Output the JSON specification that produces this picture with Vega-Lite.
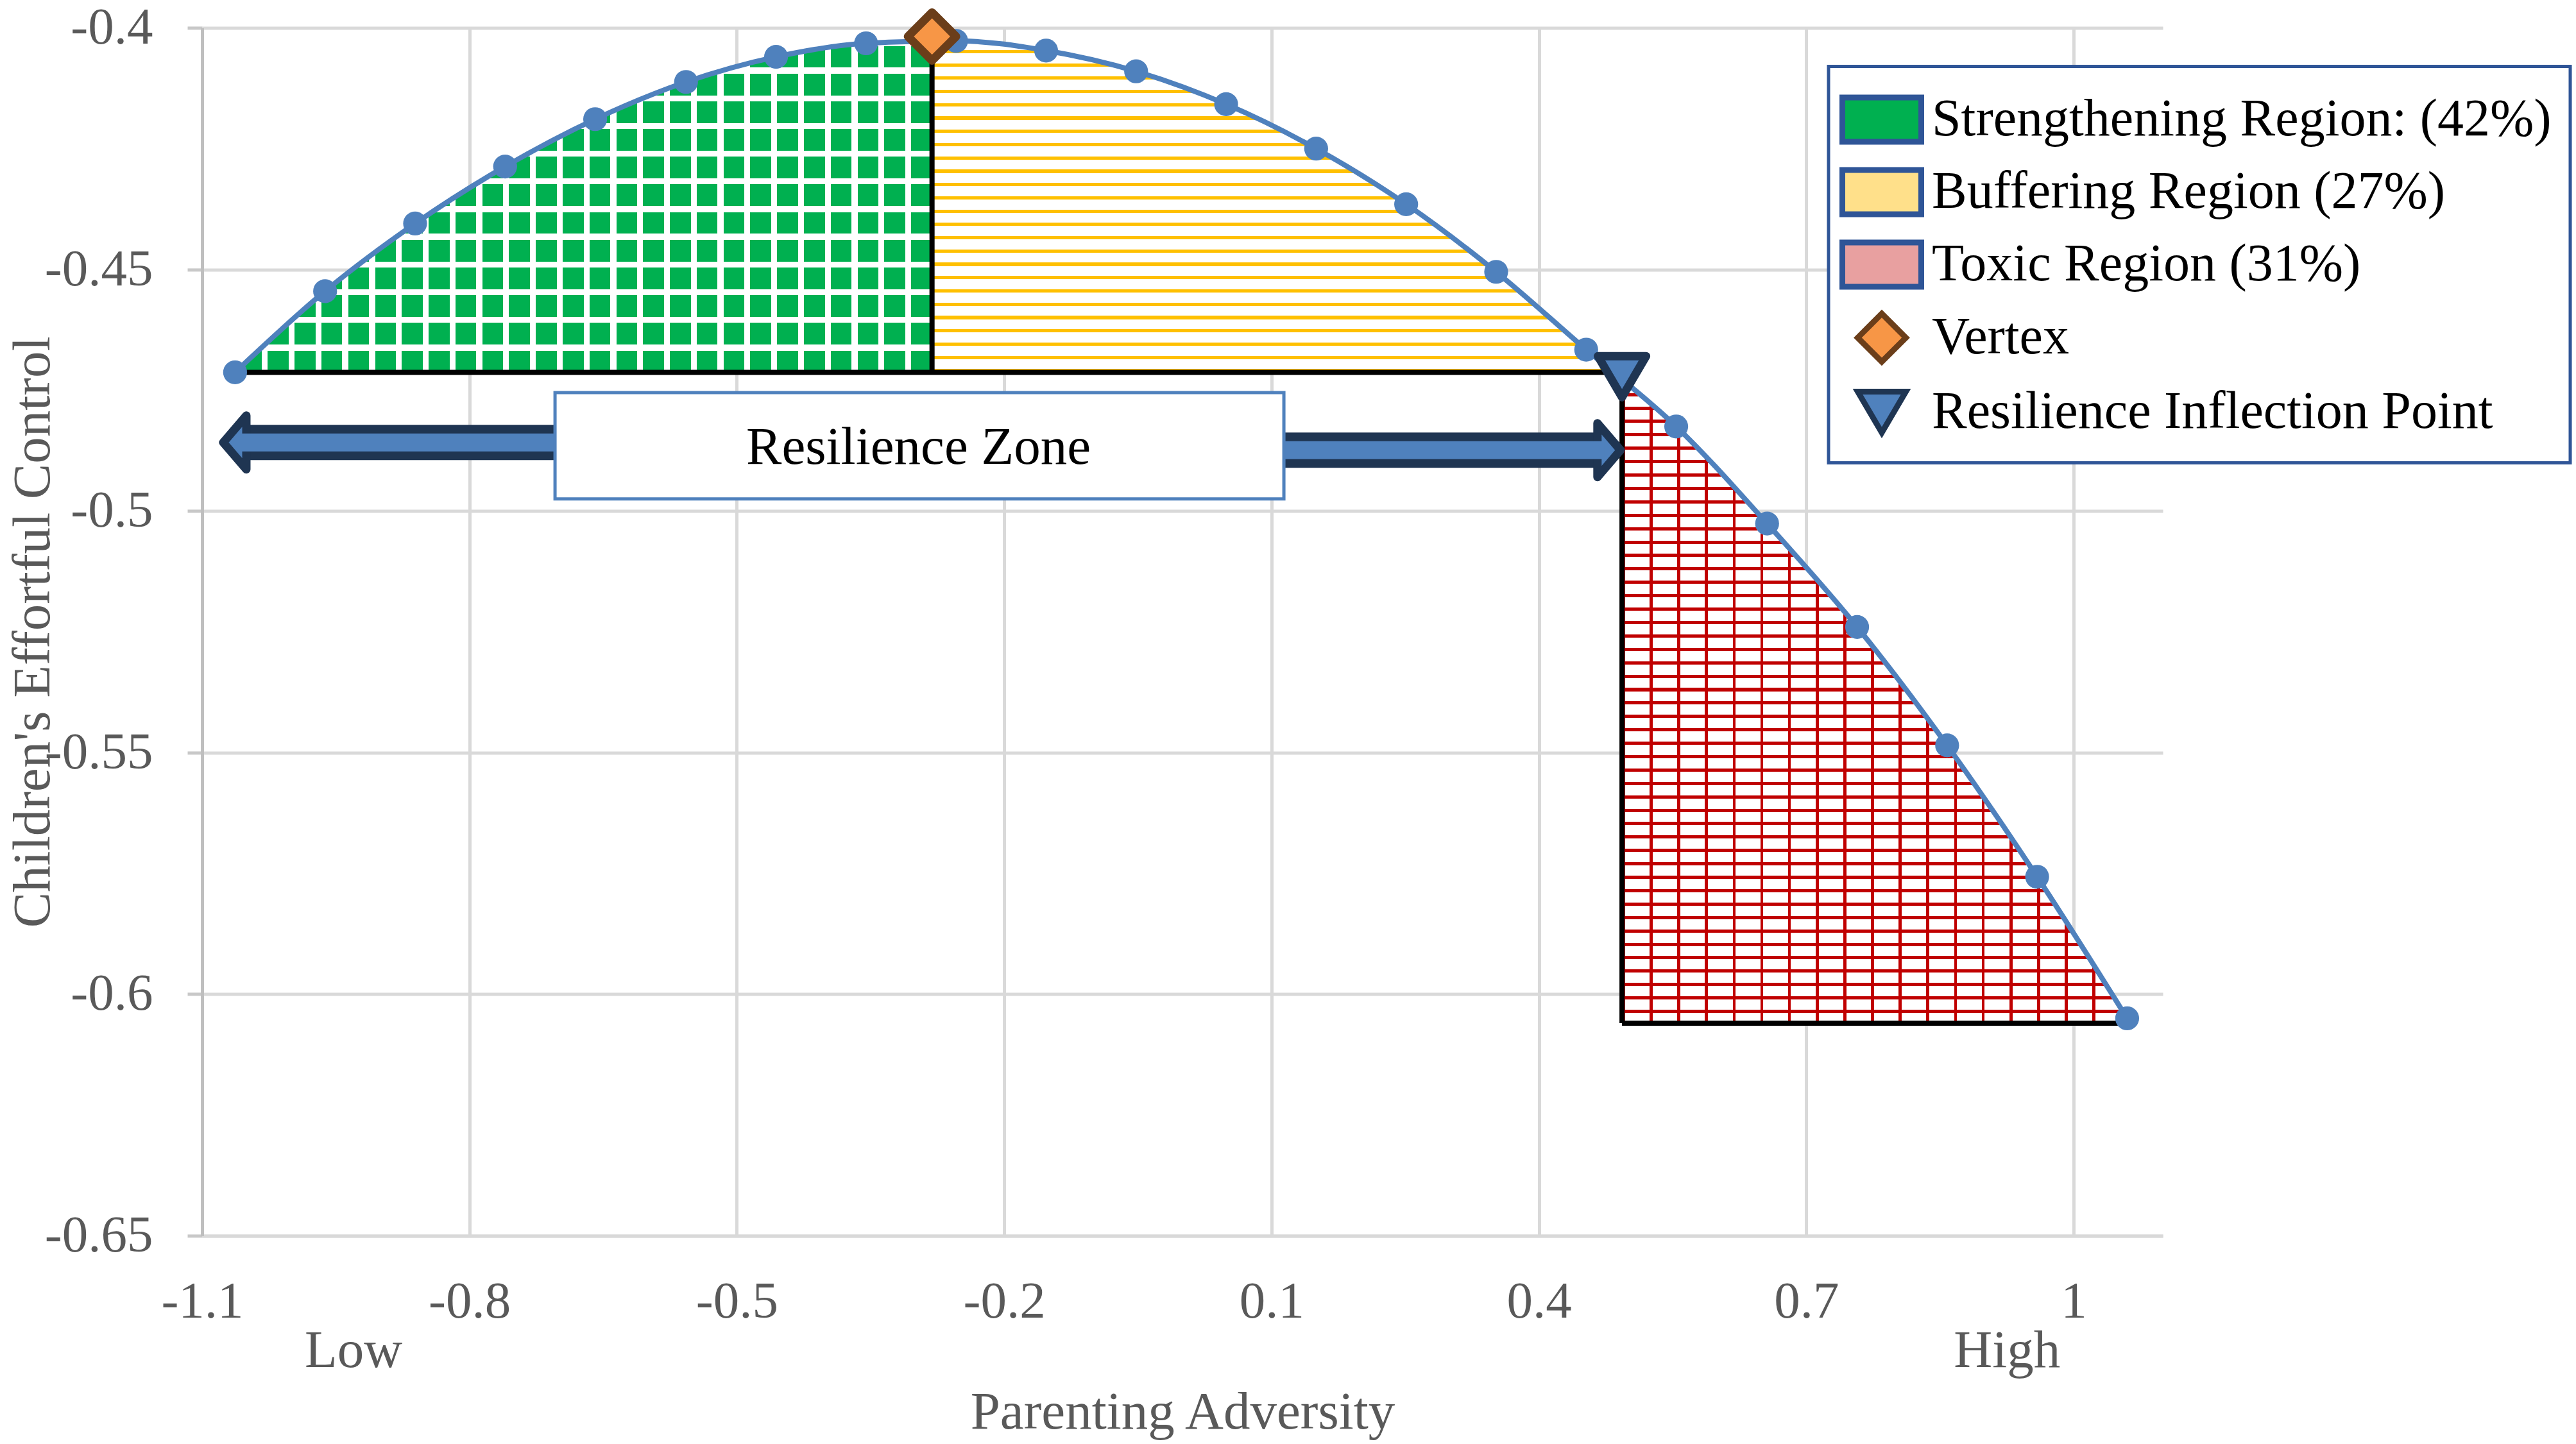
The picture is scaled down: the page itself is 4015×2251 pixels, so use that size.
{
  "$schema": "https://vega.github.io/schema/vega-lite/v6.json",
  "width": 3056,
  "height": 1883,
  "autosize": {"type": "none"},
  "padding": {"left": 315, "top": 43.4, "right": 644, "bottom": 324.6},
  "background": "#ffffff",
  "config": {
    "view": {"stroke": null},
    "font": "Liberation Serif",
    "legend": {"strokeWidth": 5},
    "axis": {
      "labelFont": "Liberation Serif",
      "titleFont": "Liberation Serif",
      "labelColor": "#595959",
      "titleColor": "#595959",
      "titleFontWeight": "normal",
      "labelFontSize": 81,
      "titleFontSize": 83,
      "gridColor": "#D9D9D9",
      "gridWidth": 5
    }
  },
  "datasets": {
    "curve": [
      {"x": -1.063, "y": -0.4713},
      {"x": -0.962, "y": -0.4545},
      {"x": -0.861, "y": -0.4405},
      {"x": -0.76, "y": -0.4287},
      {"x": -0.659, "y": -0.4189},
      {"x": -0.557, "y": -0.4112},
      {"x": -0.456, "y": -0.406},
      {"x": -0.355, "y": -0.4032},
      {"x": -0.254, "y": -0.4027},
      {"x": -0.153, "y": -0.4047},
      {"x": -0.052, "y": -0.409},
      {"x": 0.049, "y": -0.4158},
      {"x": 0.15, "y": -0.425},
      {"x": 0.251, "y": -0.4365},
      {"x": 0.352, "y": -0.4505},
      {"x": 0.453, "y": -0.4666},
      {"x": 0.554, "y": -0.4825},
      {"x": 0.656, "y": -0.5026},
      {"x": 0.757, "y": -0.524},
      {"x": 0.858, "y": -0.5485},
      {"x": 0.959, "y": -0.5757},
      {"x": 1.06, "y": -0.605}
    ],
    "strengthening": [
      {"x": -1.063, "y": -0.4713},
      {"x": -0.962, "y": -0.4545},
      {"x": -0.861, "y": -0.4405},
      {"x": -0.76, "y": -0.4287},
      {"x": -0.659, "y": -0.4189},
      {"x": -0.557, "y": -0.4112},
      {"x": -0.456, "y": -0.406},
      {"x": -0.355, "y": -0.4032},
      {"x": -0.281, "y": -0.4025}
    ],
    "buffering": [
      {"x": -0.281, "y": -0.4025},
      {"x": -0.254, "y": -0.4027},
      {"x": -0.153, "y": -0.4047},
      {"x": -0.052, "y": -0.409},
      {"x": 0.049, "y": -0.4158},
      {"x": 0.15, "y": -0.425},
      {"x": 0.251, "y": -0.4365},
      {"x": 0.352, "y": -0.4505},
      {"x": 0.453, "y": -0.4666},
      {"x": 0.48, "y": -0.4713}
    ],
    "toxic": [
      {"x": 0.4932, "y": -0.4728},
      {"x": 0.554, "y": -0.4825},
      {"x": 0.656, "y": -0.5026},
      {"x": 0.757, "y": -0.524},
      {"x": 0.858, "y": -0.5485},
      {"x": 0.959, "y": -0.5757},
      {"x": 1.052, "y": -0.6027}
    ],
    "black": [
      {"x": -1.055, "x2": 0.4932, "y": -0.4713, "y2": -0.4713},
      {"x": -0.281, "x2": -0.281, "y": -0.4025, "y2": -0.4713},
      {"x": 0.4932, "x2": 0.4932, "y": -0.4728, "y2": -0.606},
      {"x": 0.4932, "x2": 1.052, "y": -0.606, "y2": -0.606}
    ],
    "arrows": [
      {"side": "left", "x": -1.0489, "x2": -0.5, "y": -0.4858},
      {"side": "right", "x": -0.3, "x2": 0.4657, "y": -0.4874}
    ],
    "heads": [
      {"side": "left", "x": -1.0633, "y": -0.4858},
      {"side": "right", "x": 0.4786, "y": -0.4874}
    ],
    "cores": [
      {"side": "left", "x": -1.0561, "x2": -0.5, "y": -0.4858},
      {"side": "right", "x": -0.3, "x2": 0.4731, "y": -0.4874}
    ],
    "zone": [
      {"x": -0.704, "x2": 0.1138, "y": -0.4755, "y2": -0.4975}
    ],
    "zonelabel": [
      {"label": "Resilience Zone", "x": -0.2962, "y": -0.4869}
    ],
    "markers": [
      {"series": "Vertex", "x": -0.281, "y": -0.4018},
      {"series": "Resilience Inflection Point", "x": 0.4932, "y": -0.4722}
    ],
    "ends": [
      {"label": "Low", "x": -0.9301, "y": -0.6739},
      {"label": "High", "x": 0.9252, "y": -0.6739}
    ]
  },
  "layer": [
    {
      "data": {"name": "strengthening"},
      "mark": {"type": "area", "interpolate": "monotone", "color": "#00B050", "opacity": 1},
      "encoding": {
        "x": {
          "field": "x",
          "type": "quantitative",
          "scale": {"domain": [-1.1, 1.1], "nice": false, "zero": false},
          "axis": {
            "values": [-1.1, -0.8, -0.5, -0.2, 0.1, 0.4, 0.7, 1],
            "labelExpr": "'' + datum.value",
            "ticks": false,
            "domainColor": "#D9D9D9",
            "domainWidth": 5,
            "labelPadding": 63,
            "labelFlush": false,
            "labelOverlap": false,
            "title": "Parenting Adversity",
            "titlePadding": 91
          }
        },
        "y": {
          "field": "y",
          "type": "quantitative",
          "scale": {"domain": [-0.65, -0.4], "nice": false, "zero": false},
          "axis": {
            "values": [-0.65, -0.6, -0.55, -0.5, -0.45, -0.4],
            "labelExpr": "'' + datum.value",
            "ticks": true,
            "tickSize": 23,
            "tickWidth": 5,
            "tickColor": "#C8C8C8",
            "domainColor": "#BFBFBF",
            "domainWidth": 5,
            "labelPadding": 54,
            "labelFlush": false,
            "labelOverlap": false,
            "title": "Children's Effortful Control",
            "titlePadding": 22
          }
        },
        "y2": {"datum": -0.4713}
      }
    },
    {
      "data": {"name": "strengthening"},
      "mark": {
        "type": "area",
        "interpolate": "monotone",
        "opacity": 1,
        "fill": {
          "gradient": "linear", "x1": 0, "y1": 0, "x2": 0, "y2": 1,
          "stops": [
            {"offset": 0, "color": "#fff"}, {"offset": 0.018, "color": "#fff"}, {"offset": 0.018, "color": "rgba(255,255,255,0)"},
            {"offset": 0.0833, "color": "rgba(255,255,255,0)"}, {"offset": 0.0833, "color": "#fff"}, {"offset": 0.1013, "color": "#fff"}, {"offset": 0.1013, "color": "rgba(255,255,255,0)"},
            {"offset": 0.1667, "color": "rgba(255,255,255,0)"}, {"offset": 0.1667, "color": "#fff"}, {"offset": 0.1847, "color": "#fff"}, {"offset": 0.1847, "color": "rgba(255,255,255,0)"},
            {"offset": 0.25, "color": "rgba(255,255,255,0)"}, {"offset": 0.25, "color": "#fff"}, {"offset": 0.268, "color": "#fff"}, {"offset": 0.268, "color": "rgba(255,255,255,0)"},
            {"offset": 0.3333, "color": "rgba(255,255,255,0)"}, {"offset": 0.3333, "color": "#fff"}, {"offset": 0.3513, "color": "#fff"}, {"offset": 0.3513, "color": "rgba(255,255,255,0)"},
            {"offset": 0.4167, "color": "rgba(255,255,255,0)"}, {"offset": 0.4167, "color": "#fff"}, {"offset": 0.4347, "color": "#fff"}, {"offset": 0.4347, "color": "rgba(255,255,255,0)"},
            {"offset": 0.5, "color": "rgba(255,255,255,0)"}, {"offset": 0.5, "color": "#fff"}, {"offset": 0.518, "color": "#fff"}, {"offset": 0.518, "color": "rgba(255,255,255,0)"},
            {"offset": 0.5833, "color": "rgba(255,255,255,0)"}, {"offset": 0.5833, "color": "#fff"}, {"offset": 0.6013, "color": "#fff"}, {"offset": 0.6013, "color": "rgba(255,255,255,0)"},
            {"offset": 0.6667, "color": "rgba(255,255,255,0)"}, {"offset": 0.6667, "color": "#fff"}, {"offset": 0.6847, "color": "#fff"}, {"offset": 0.6847, "color": "rgba(255,255,255,0)"},
            {"offset": 0.75, "color": "rgba(255,255,255,0)"}, {"offset": 0.75, "color": "#fff"}, {"offset": 0.768, "color": "#fff"}, {"offset": 0.768, "color": "rgba(255,255,255,0)"},
            {"offset": 0.8333, "color": "rgba(255,255,255,0)"}, {"offset": 0.8333, "color": "#fff"}, {"offset": 0.8513, "color": "#fff"}, {"offset": 0.8513, "color": "rgba(255,255,255,0)"},
            {"offset": 0.9167, "color": "rgba(255,255,255,0)"}, {"offset": 0.9167, "color": "#fff"}, {"offset": 0.9347, "color": "#fff"}, {"offset": 0.9347, "color": "rgba(255,255,255,0)"},
            {"offset": 1, "color": "rgba(255,255,255,0)"}
          ]
        }
      },
      "encoding": {
        "x": {"field": "x", "type": "quantitative"},
        "y": {"field": "y", "type": "quantitative"},
        "y2": {"datum": -0.4713}
      }
    },
    {
      "data": {"name": "strengthening"},
      "mark": {
        "type": "area",
        "interpolate": "monotone",
        "opacity": 1,
        "fill": {
          "gradient": "linear", "x1": 0, "y1": 0, "x2": 1, "y2": 0,
          "stops": [
            {"offset": 0, "color": "#fff"}, {"offset": 0.0085, "color": "#fff"}, {"offset": 0.0085, "color": "rgba(255,255,255,0)"},
            {"offset": 0.0385, "color": "rgba(255,255,255,0)"}, {"offset": 0.0385, "color": "#fff"}, {"offset": 0.047, "color": "#fff"}, {"offset": 0.047, "color": "rgba(255,255,255,0)"},
            {"offset": 0.0769, "color": "rgba(255,255,255,0)"}, {"offset": 0.0769, "color": "#fff"}, {"offset": 0.0854, "color": "#fff"}, {"offset": 0.0854, "color": "rgba(255,255,255,0)"},
            {"offset": 0.1154, "color": "rgba(255,255,255,0)"}, {"offset": 0.1154, "color": "#fff"}, {"offset": 0.1239, "color": "#fff"}, {"offset": 0.1239, "color": "rgba(255,255,255,0)"},
            {"offset": 0.1538, "color": "rgba(255,255,255,0)"}, {"offset": 0.1538, "color": "#fff"}, {"offset": 0.1623, "color": "#fff"}, {"offset": 0.1623, "color": "rgba(255,255,255,0)"},
            {"offset": 0.1923, "color": "rgba(255,255,255,0)"}, {"offset": 0.1923, "color": "#fff"}, {"offset": 0.2008, "color": "#fff"}, {"offset": 0.2008, "color": "rgba(255,255,255,0)"},
            {"offset": 0.2308, "color": "rgba(255,255,255,0)"}, {"offset": 0.2308, "color": "#fff"}, {"offset": 0.2393, "color": "#fff"}, {"offset": 0.2393, "color": "rgba(255,255,255,0)"},
            {"offset": 0.2692, "color": "rgba(255,255,255,0)"}, {"offset": 0.2692, "color": "#fff"}, {"offset": 0.2777, "color": "#fff"}, {"offset": 0.2777, "color": "rgba(255,255,255,0)"},
            {"offset": 0.3077, "color": "rgba(255,255,255,0)"}, {"offset": 0.3077, "color": "#fff"}, {"offset": 0.3162, "color": "#fff"}, {"offset": 0.3162, "color": "rgba(255,255,255,0)"},
            {"offset": 0.3462, "color": "rgba(255,255,255,0)"}, {"offset": 0.3462, "color": "#fff"}, {"offset": 0.3547, "color": "#fff"}, {"offset": 0.3547, "color": "rgba(255,255,255,0)"},
            {"offset": 0.3846, "color": "rgba(255,255,255,0)"}, {"offset": 0.3846, "color": "#fff"}, {"offset": 0.3931, "color": "#fff"}, {"offset": 0.3931, "color": "rgba(255,255,255,0)"},
            {"offset": 0.4231, "color": "rgba(255,255,255,0)"}, {"offset": 0.4231, "color": "#fff"}, {"offset": 0.4316, "color": "#fff"}, {"offset": 0.4316, "color": "rgba(255,255,255,0)"},
            {"offset": 0.4615, "color": "rgba(255,255,255,0)"}, {"offset": 0.4615, "color": "#fff"}, {"offset": 0.47, "color": "#fff"}, {"offset": 0.47, "color": "rgba(255,255,255,0)"},
            {"offset": 0.5, "color": "rgba(255,255,255,0)"}, {"offset": 0.5, "color": "#fff"}, {"offset": 0.5085, "color": "#fff"}, {"offset": 0.5085, "color": "rgba(255,255,255,0)"},
            {"offset": 0.5385, "color": "rgba(255,255,255,0)"}, {"offset": 0.5385, "color": "#fff"}, {"offset": 0.547, "color": "#fff"}, {"offset": 0.547, "color": "rgba(255,255,255,0)"},
            {"offset": 0.5769, "color": "rgba(255,255,255,0)"}, {"offset": 0.5769, "color": "#fff"}, {"offset": 0.5854, "color": "#fff"}, {"offset": 0.5854, "color": "rgba(255,255,255,0)"},
            {"offset": 0.6154, "color": "rgba(255,255,255,0)"}, {"offset": 0.6154, "color": "#fff"}, {"offset": 0.6239, "color": "#fff"}, {"offset": 0.6239, "color": "rgba(255,255,255,0)"},
            {"offset": 0.6538, "color": "rgba(255,255,255,0)"}, {"offset": 0.6538, "color": "#fff"}, {"offset": 0.6623, "color": "#fff"}, {"offset": 0.6623, "color": "rgba(255,255,255,0)"},
            {"offset": 0.6923, "color": "rgba(255,255,255,0)"}, {"offset": 0.6923, "color": "#fff"}, {"offset": 0.7008, "color": "#fff"}, {"offset": 0.7008, "color": "rgba(255,255,255,0)"},
            {"offset": 0.7308, "color": "rgba(255,255,255,0)"}, {"offset": 0.7308, "color": "#fff"}, {"offset": 0.7393, "color": "#fff"}, {"offset": 0.7393, "color": "rgba(255,255,255,0)"},
            {"offset": 0.7692, "color": "rgba(255,255,255,0)"}, {"offset": 0.7692, "color": "#fff"}, {"offset": 0.7777, "color": "#fff"}, {"offset": 0.7777, "color": "rgba(255,255,255,0)"},
            {"offset": 0.8077, "color": "rgba(255,255,255,0)"}, {"offset": 0.8077, "color": "#fff"}, {"offset": 0.8162, "color": "#fff"}, {"offset": 0.8162, "color": "rgba(255,255,255,0)"},
            {"offset": 0.8462, "color": "rgba(255,255,255,0)"}, {"offset": 0.8462, "color": "#fff"}, {"offset": 0.8547, "color": "#fff"}, {"offset": 0.8547, "color": "rgba(255,255,255,0)"},
            {"offset": 0.8846, "color": "rgba(255,255,255,0)"}, {"offset": 0.8846, "color": "#fff"}, {"offset": 0.8931, "color": "#fff"}, {"offset": 0.8931, "color": "rgba(255,255,255,0)"},
            {"offset": 0.9231, "color": "rgba(255,255,255,0)"}, {"offset": 0.9231, "color": "#fff"}, {"offset": 0.9316, "color": "#fff"}, {"offset": 0.9316, "color": "rgba(255,255,255,0)"},
            {"offset": 0.9615, "color": "rgba(255,255,255,0)"}, {"offset": 0.9615, "color": "#fff"}, {"offset": 0.97, "color": "#fff"}, {"offset": 0.97, "color": "rgba(255,255,255,0)"},
            {"offset": 1, "color": "rgba(255,255,255,0)"}
          ]
        }
      },
      "encoding": {
        "x": {"field": "x", "type": "quantitative"},
        "y": {"field": "y", "type": "quantitative"},
        "y2": {"datum": -0.4713}
      }
    },
    {
      "data": {"name": "buffering"},
      "mark": {
        "type": "area",
        "interpolate": "monotone",
        "opacity": 1,
        "fill": {
          "gradient": "linear", "x1": 0, "y1": 0, "x2": 0, "y2": 1,
          "stops": [
            {"offset": 0, "color": "#fff"},
            {"offset": 0.03, "color": "#fff"}, {"offset": 0.03, "color": "#ffc000"}, {"offset": 0.04, "color": "#ffc000"}, {"offset": 0.04, "color": "#fff"},
            {"offset": 0.07, "color": "#fff"}, {"offset": 0.07, "color": "#ffc000"}, {"offset": 0.08, "color": "#ffc000"}, {"offset": 0.08, "color": "#fff"},
            {"offset": 0.11, "color": "#fff"}, {"offset": 0.11, "color": "#ffc000"}, {"offset": 0.12, "color": "#ffc000"}, {"offset": 0.12, "color": "#fff"},
            {"offset": 0.15, "color": "#fff"}, {"offset": 0.15, "color": "#ffc000"}, {"offset": 0.16, "color": "#ffc000"}, {"offset": 0.16, "color": "#fff"},
            {"offset": 0.19, "color": "#fff"}, {"offset": 0.19, "color": "#ffc000"}, {"offset": 0.2, "color": "#ffc000"}, {"offset": 0.2, "color": "#fff"},
            {"offset": 0.23, "color": "#fff"}, {"offset": 0.23, "color": "#ffc000"}, {"offset": 0.24, "color": "#ffc000"}, {"offset": 0.24, "color": "#fff"},
            {"offset": 0.27, "color": "#fff"}, {"offset": 0.27, "color": "#ffc000"}, {"offset": 0.28, "color": "#ffc000"}, {"offset": 0.28, "color": "#fff"},
            {"offset": 0.31, "color": "#fff"}, {"offset": 0.31, "color": "#ffc000"}, {"offset": 0.32, "color": "#ffc000"}, {"offset": 0.32, "color": "#fff"},
            {"offset": 0.35, "color": "#fff"}, {"offset": 0.35, "color": "#ffc000"}, {"offset": 0.36, "color": "#ffc000"}, {"offset": 0.36, "color": "#fff"},
            {"offset": 0.39, "color": "#fff"}, {"offset": 0.39, "color": "#ffc000"}, {"offset": 0.4, "color": "#ffc000"}, {"offset": 0.4, "color": "#fff"},
            {"offset": 0.43, "color": "#fff"}, {"offset": 0.43, "color": "#ffc000"}, {"offset": 0.44, "color": "#ffc000"}, {"offset": 0.44, "color": "#fff"},
            {"offset": 0.47, "color": "#fff"}, {"offset": 0.47, "color": "#ffc000"}, {"offset": 0.48, "color": "#ffc000"}, {"offset": 0.48, "color": "#fff"},
            {"offset": 0.51, "color": "#fff"}, {"offset": 0.51, "color": "#ffc000"}, {"offset": 0.52, "color": "#ffc000"}, {"offset": 0.52, "color": "#fff"},
            {"offset": 0.55, "color": "#fff"}, {"offset": 0.55, "color": "#ffc000"}, {"offset": 0.56, "color": "#ffc000"}, {"offset": 0.56, "color": "#fff"},
            {"offset": 0.59, "color": "#fff"}, {"offset": 0.59, "color": "#ffc000"}, {"offset": 0.6, "color": "#ffc000"}, {"offset": 0.6, "color": "#fff"},
            {"offset": 0.63, "color": "#fff"}, {"offset": 0.63, "color": "#ffc000"}, {"offset": 0.64, "color": "#ffc000"}, {"offset": 0.64, "color": "#fff"},
            {"offset": 0.67, "color": "#fff"}, {"offset": 0.67, "color": "#ffc000"}, {"offset": 0.68, "color": "#ffc000"}, {"offset": 0.68, "color": "#fff"},
            {"offset": 0.71, "color": "#fff"}, {"offset": 0.71, "color": "#ffc000"}, {"offset": 0.72, "color": "#ffc000"}, {"offset": 0.72, "color": "#fff"},
            {"offset": 0.75, "color": "#fff"}, {"offset": 0.75, "color": "#ffc000"}, {"offset": 0.76, "color": "#ffc000"}, {"offset": 0.76, "color": "#fff"},
            {"offset": 0.79, "color": "#fff"}, {"offset": 0.79, "color": "#ffc000"}, {"offset": 0.8, "color": "#ffc000"}, {"offset": 0.8, "color": "#fff"},
            {"offset": 0.83, "color": "#fff"}, {"offset": 0.83, "color": "#ffc000"}, {"offset": 0.84, "color": "#ffc000"}, {"offset": 0.84, "color": "#fff"},
            {"offset": 0.87, "color": "#fff"}, {"offset": 0.87, "color": "#ffc000"}, {"offset": 0.88, "color": "#ffc000"}, {"offset": 0.88, "color": "#fff"},
            {"offset": 0.91, "color": "#fff"}, {"offset": 0.91, "color": "#ffc000"}, {"offset": 0.92, "color": "#ffc000"}, {"offset": 0.92, "color": "#fff"},
            {"offset": 0.95, "color": "#fff"}, {"offset": 0.95, "color": "#ffc000"}, {"offset": 0.96, "color": "#ffc000"}, {"offset": 0.96, "color": "#fff"},
            {"offset": 0.99, "color": "#fff"}, {"offset": 0.99, "color": "#ffc000"}, {"offset": 1, "color": "#ffc000"}
          ]
        }
      },
      "encoding": {
        "x": {"field": "x", "type": "quantitative"},
        "y": {"field": "y", "type": "quantitative"},
        "y2": {"datum": -0.4713}
      }
    },
    {
      "data": {"name": "toxic"},
      "mark": {
        "type": "area",
        "interpolate": "monotone",
        "opacity": 1,
        "fill": {
          "gradient": "linear", "x1": 0, "y1": 0, "x2": 0, "y2": 1,
          "stops": [
            {"offset": 0, "color": "#c00000"}, {"offset": 0.005, "color": "#c00000"}, {"offset": 0.005, "color": "#fff"},
            {"offset": 0.0208, "color": "#fff"}, {"offset": 0.0208, "color": "#c00000"}, {"offset": 0.0258, "color": "#c00000"}, {"offset": 0.0258, "color": "#fff"},
            {"offset": 0.0417, "color": "#fff"}, {"offset": 0.0417, "color": "#c00000"}, {"offset": 0.0467, "color": "#c00000"}, {"offset": 0.0467, "color": "#fff"},
            {"offset": 0.0625, "color": "#fff"}, {"offset": 0.0625, "color": "#c00000"}, {"offset": 0.0675, "color": "#c00000"}, {"offset": 0.0675, "color": "#fff"},
            {"offset": 0.0833, "color": "#fff"}, {"offset": 0.0833, "color": "#c00000"}, {"offset": 0.0883, "color": "#c00000"}, {"offset": 0.0883, "color": "#fff"},
            {"offset": 0.1042, "color": "#fff"}, {"offset": 0.1042, "color": "#c00000"}, {"offset": 0.1092, "color": "#c00000"}, {"offset": 0.1092, "color": "#fff"},
            {"offset": 0.125, "color": "#fff"}, {"offset": 0.125, "color": "#c00000"}, {"offset": 0.13, "color": "#c00000"}, {"offset": 0.13, "color": "#fff"},
            {"offset": 0.1458, "color": "#fff"}, {"offset": 0.1458, "color": "#c00000"}, {"offset": 0.1508, "color": "#c00000"}, {"offset": 0.1508, "color": "#fff"},
            {"offset": 0.1667, "color": "#fff"}, {"offset": 0.1667, "color": "#c00000"}, {"offset": 0.1717, "color": "#c00000"}, {"offset": 0.1717, "color": "#fff"},
            {"offset": 0.1875, "color": "#fff"}, {"offset": 0.1875, "color": "#c00000"}, {"offset": 0.1925, "color": "#c00000"}, {"offset": 0.1925, "color": "#fff"},
            {"offset": 0.2083, "color": "#fff"}, {"offset": 0.2083, "color": "#c00000"}, {"offset": 0.2133, "color": "#c00000"}, {"offset": 0.2133, "color": "#fff"},
            {"offset": 0.2292, "color": "#fff"}, {"offset": 0.2292, "color": "#c00000"}, {"offset": 0.2342, "color": "#c00000"}, {"offset": 0.2342, "color": "#fff"},
            {"offset": 0.25, "color": "#fff"}, {"offset": 0.25, "color": "#c00000"}, {"offset": 0.255, "color": "#c00000"}, {"offset": 0.255, "color": "#fff"},
            {"offset": 0.2708, "color": "#fff"}, {"offset": 0.2708, "color": "#c00000"}, {"offset": 0.2758, "color": "#c00000"}, {"offset": 0.2758, "color": "#fff"},
            {"offset": 0.2917, "color": "#fff"}, {"offset": 0.2917, "color": "#c00000"}, {"offset": 0.2967, "color": "#c00000"}, {"offset": 0.2967, "color": "#fff"},
            {"offset": 0.3125, "color": "#fff"}, {"offset": 0.3125, "color": "#c00000"}, {"offset": 0.3175, "color": "#c00000"}, {"offset": 0.3175, "color": "#fff"},
            {"offset": 0.3333, "color": "#fff"}, {"offset": 0.3333, "color": "#c00000"}, {"offset": 0.3383, "color": "#c00000"}, {"offset": 0.3383, "color": "#fff"},
            {"offset": 0.3542, "color": "#fff"}, {"offset": 0.3542, "color": "#c00000"}, {"offset": 0.3592, "color": "#c00000"}, {"offset": 0.3592, "color": "#fff"},
            {"offset": 0.375, "color": "#fff"}, {"offset": 0.375, "color": "#c00000"}, {"offset": 0.38, "color": "#c00000"}, {"offset": 0.38, "color": "#fff"},
            {"offset": 0.3958, "color": "#fff"}, {"offset": 0.3958, "color": "#c00000"}, {"offset": 0.4008, "color": "#c00000"}, {"offset": 0.4008, "color": "#fff"},
            {"offset": 0.4167, "color": "#fff"}, {"offset": 0.4167, "color": "#c00000"}, {"offset": 0.4217, "color": "#c00000"}, {"offset": 0.4217, "color": "#fff"},
            {"offset": 0.4375, "color": "#fff"}, {"offset": 0.4375, "color": "#c00000"}, {"offset": 0.4425, "color": "#c00000"}, {"offset": 0.4425, "color": "#fff"},
            {"offset": 0.4583, "color": "#fff"}, {"offset": 0.4583, "color": "#c00000"}, {"offset": 0.4633, "color": "#c00000"}, {"offset": 0.4633, "color": "#fff"},
            {"offset": 0.4792, "color": "#fff"}, {"offset": 0.4792, "color": "#c00000"}, {"offset": 0.4842, "color": "#c00000"}, {"offset": 0.4842, "color": "#fff"},
            {"offset": 0.5, "color": "#fff"}, {"offset": 0.5, "color": "#c00000"}, {"offset": 0.505, "color": "#c00000"}, {"offset": 0.505, "color": "#fff"},
            {"offset": 0.5208, "color": "#fff"}, {"offset": 0.5208, "color": "#c00000"}, {"offset": 0.5258, "color": "#c00000"}, {"offset": 0.5258, "color": "#fff"},
            {"offset": 0.5417, "color": "#fff"}, {"offset": 0.5417, "color": "#c00000"}, {"offset": 0.5467, "color": "#c00000"}, {"offset": 0.5467, "color": "#fff"},
            {"offset": 0.5625, "color": "#fff"}, {"offset": 0.5625, "color": "#c00000"}, {"offset": 0.5675, "color": "#c00000"}, {"offset": 0.5675, "color": "#fff"},
            {"offset": 0.5833, "color": "#fff"}, {"offset": 0.5833, "color": "#c00000"}, {"offset": 0.5883, "color": "#c00000"}, {"offset": 0.5883, "color": "#fff"},
            {"offset": 0.6042, "color": "#fff"}, {"offset": 0.6042, "color": "#c00000"}, {"offset": 0.6092, "color": "#c00000"}, {"offset": 0.6092, "color": "#fff"},
            {"offset": 0.625, "color": "#fff"}, {"offset": 0.625, "color": "#c00000"}, {"offset": 0.63, "color": "#c00000"}, {"offset": 0.63, "color": "#fff"},
            {"offset": 0.6458, "color": "#fff"}, {"offset": 0.6458, "color": "#c00000"}, {"offset": 0.6508, "color": "#c00000"}, {"offset": 0.6508, "color": "#fff"},
            {"offset": 0.6667, "color": "#fff"}, {"offset": 0.6667, "color": "#c00000"}, {"offset": 0.6717, "color": "#c00000"}, {"offset": 0.6717, "color": "#fff"},
            {"offset": 0.6875, "color": "#fff"}, {"offset": 0.6875, "color": "#c00000"}, {"offset": 0.6925, "color": "#c00000"}, {"offset": 0.6925, "color": "#fff"},
            {"offset": 0.7083, "color": "#fff"}, {"offset": 0.7083, "color": "#c00000"}, {"offset": 0.7133, "color": "#c00000"}, {"offset": 0.7133, "color": "#fff"},
            {"offset": 0.7292, "color": "#fff"}, {"offset": 0.7292, "color": "#c00000"}, {"offset": 0.7342, "color": "#c00000"}, {"offset": 0.7342, "color": "#fff"},
            {"offset": 0.75, "color": "#fff"}, {"offset": 0.75, "color": "#c00000"}, {"offset": 0.755, "color": "#c00000"}, {"offset": 0.755, "color": "#fff"},
            {"offset": 0.7708, "color": "#fff"}, {"offset": 0.7708, "color": "#c00000"}, {"offset": 0.7758, "color": "#c00000"}, {"offset": 0.7758, "color": "#fff"},
            {"offset": 0.7917, "color": "#fff"}, {"offset": 0.7917, "color": "#c00000"}, {"offset": 0.7967, "color": "#c00000"}, {"offset": 0.7967, "color": "#fff"},
            {"offset": 0.8125, "color": "#fff"}, {"offset": 0.8125, "color": "#c00000"}, {"offset": 0.8175, "color": "#c00000"}, {"offset": 0.8175, "color": "#fff"},
            {"offset": 0.8333, "color": "#fff"}, {"offset": 0.8333, "color": "#c00000"}, {"offset": 0.8383, "color": "#c00000"}, {"offset": 0.8383, "color": "#fff"},
            {"offset": 0.8542, "color": "#fff"}, {"offset": 0.8542, "color": "#c00000"}, {"offset": 0.8592, "color": "#c00000"}, {"offset": 0.8592, "color": "#fff"},
            {"offset": 0.875, "color": "#fff"}, {"offset": 0.875, "color": "#c00000"}, {"offset": 0.88, "color": "#c00000"}, {"offset": 0.88, "color": "#fff"},
            {"offset": 0.8958, "color": "#fff"}, {"offset": 0.8958, "color": "#c00000"}, {"offset": 0.9008, "color": "#c00000"}, {"offset": 0.9008, "color": "#fff"},
            {"offset": 0.9167, "color": "#fff"}, {"offset": 0.9167, "color": "#c00000"}, {"offset": 0.9217, "color": "#c00000"}, {"offset": 0.9217, "color": "#fff"},
            {"offset": 0.9375, "color": "#fff"}, {"offset": 0.9375, "color": "#c00000"}, {"offset": 0.9425, "color": "#c00000"}, {"offset": 0.9425, "color": "#fff"},
            {"offset": 0.9583, "color": "#fff"}, {"offset": 0.9583, "color": "#c00000"}, {"offset": 0.9633, "color": "#c00000"}, {"offset": 0.9633, "color": "#fff"},
            {"offset": 0.9792, "color": "#fff"}, {"offset": 0.9792, "color": "#c00000"}, {"offset": 0.9842, "color": "#c00000"}, {"offset": 0.9842, "color": "#fff"},
            {"offset": 1, "color": "#fff"}
          ]
        }
      },
      "encoding": {
        "x": {"field": "x", "type": "quantitative"},
        "y": {"field": "y", "type": "quantitative"},
        "y2": {"datum": -0.606}
      }
    },
    {
      "data": {"name": "toxic"},
      "mark": {
        "type": "area",
        "interpolate": "monotone",
        "opacity": 1,
        "fill": {
          "gradient": "linear", "x1": 0, "y1": 0, "x2": 1, "y2": 0,
          "stops": [
            {"offset": 0, "color": "#c00000"}, {"offset": 0.006, "color": "#c00000"}, {"offset": 0.006, "color": "rgba(255,255,255,0)"},
            {"offset": 0.0556, "color": "rgba(255,255,255,0)"}, {"offset": 0.0556, "color": "#c00000"}, {"offset": 0.0616, "color": "#c00000"}, {"offset": 0.0616, "color": "rgba(255,255,255,0)"},
            {"offset": 0.1111, "color": "rgba(255,255,255,0)"}, {"offset": 0.1111, "color": "#c00000"}, {"offset": 0.1171, "color": "#c00000"}, {"offset": 0.1171, "color": "rgba(255,255,255,0)"},
            {"offset": 0.1667, "color": "rgba(255,255,255,0)"}, {"offset": 0.1667, "color": "#c00000"}, {"offset": 0.1727, "color": "#c00000"}, {"offset": 0.1727, "color": "rgba(255,255,255,0)"},
            {"offset": 0.2222, "color": "rgba(255,255,255,0)"}, {"offset": 0.2222, "color": "#c00000"}, {"offset": 0.2282, "color": "#c00000"}, {"offset": 0.2282, "color": "rgba(255,255,255,0)"},
            {"offset": 0.2778, "color": "rgba(255,255,255,0)"}, {"offset": 0.2778, "color": "#c00000"}, {"offset": 0.2838, "color": "#c00000"}, {"offset": 0.2838, "color": "rgba(255,255,255,0)"},
            {"offset": 0.3333, "color": "rgba(255,255,255,0)"}, {"offset": 0.3333, "color": "#c00000"}, {"offset": 0.3393, "color": "#c00000"}, {"offset": 0.3393, "color": "rgba(255,255,255,0)"},
            {"offset": 0.3889, "color": "rgba(255,255,255,0)"}, {"offset": 0.3889, "color": "#c00000"}, {"offset": 0.3949, "color": "#c00000"}, {"offset": 0.3949, "color": "rgba(255,255,255,0)"},
            {"offset": 0.4444, "color": "rgba(255,255,255,0)"}, {"offset": 0.4444, "color": "#c00000"}, {"offset": 0.4504, "color": "#c00000"}, {"offset": 0.4504, "color": "rgba(255,255,255,0)"},
            {"offset": 0.5, "color": "rgba(255,255,255,0)"}, {"offset": 0.5, "color": "#c00000"}, {"offset": 0.506, "color": "#c00000"}, {"offset": 0.506, "color": "rgba(255,255,255,0)"},
            {"offset": 0.5556, "color": "rgba(255,255,255,0)"}, {"offset": 0.5556, "color": "#c00000"}, {"offset": 0.5616, "color": "#c00000"}, {"offset": 0.5616, "color": "rgba(255,255,255,0)"},
            {"offset": 0.6111, "color": "rgba(255,255,255,0)"}, {"offset": 0.6111, "color": "#c00000"}, {"offset": 0.6171, "color": "#c00000"}, {"offset": 0.6171, "color": "rgba(255,255,255,0)"},
            {"offset": 0.6667, "color": "rgba(255,255,255,0)"}, {"offset": 0.6667, "color": "#c00000"}, {"offset": 0.6727, "color": "#c00000"}, {"offset": 0.6727, "color": "rgba(255,255,255,0)"},
            {"offset": 0.7222, "color": "rgba(255,255,255,0)"}, {"offset": 0.7222, "color": "#c00000"}, {"offset": 0.7282, "color": "#c00000"}, {"offset": 0.7282, "color": "rgba(255,255,255,0)"},
            {"offset": 0.7778, "color": "rgba(255,255,255,0)"}, {"offset": 0.7778, "color": "#c00000"}, {"offset": 0.7838, "color": "#c00000"}, {"offset": 0.7838, "color": "rgba(255,255,255,0)"},
            {"offset": 0.8333, "color": "rgba(255,255,255,0)"}, {"offset": 0.8333, "color": "#c00000"}, {"offset": 0.8393, "color": "#c00000"}, {"offset": 0.8393, "color": "rgba(255,255,255,0)"},
            {"offset": 0.8889, "color": "rgba(255,255,255,0)"}, {"offset": 0.8889, "color": "#c00000"}, {"offset": 0.8949, "color": "#c00000"}, {"offset": 0.8949, "color": "rgba(255,255,255,0)"},
            {"offset": 0.9444, "color": "rgba(255,255,255,0)"}, {"offset": 0.9444, "color": "#c00000"}, {"offset": 0.9504, "color": "#c00000"}, {"offset": 0.9504, "color": "rgba(255,255,255,0)"},
            {"offset": 1, "color": "rgba(255,255,255,0)"}
          ]
        }
      },
      "encoding": {
        "x": {"field": "x", "type": "quantitative"},
        "y": {"field": "y", "type": "quantitative"},
        "y2": {"datum": -0.606}
      }
    },
    {
      "data": {"name": "black"},
      "mark": {"type": "rule", "color": "#000000", "strokeWidth": 8},
      "encoding": {
        "x": {"field": "x", "type": "quantitative"},
        "y": {"field": "y", "type": "quantitative"},
        "x2": {"field": "x2"},
        "y2": {"field": "y2"}
      }
    },
    {
      "data": {"name": "arrows"},
      "mark": {"type": "rule", "color": "#1F3552", "strokeWidth": 55},
      "encoding": {
        "x": {"field": "x", "type": "quantitative"},
        "y": {"field": "y", "type": "quantitative"},
        "x2": {"field": "x2"}
      }
    },
    {
      "data": {"name": "heads"},
      "transform": [{"filter": "datum.side === 'left'"}],
      "mark": {"type": "point", "shape": "M -0.36 0 L 0.36 -0.84 L 0.36 0.84 Z", "size": 10000, "filled": true, "color": "#4F81BD", "stroke": "#1F3552", "strokeWidth": 13, "strokeJoin": "round", "opacity": 1},
      "encoding": {
        "x": {"field": "x", "type": "quantitative"},
        "y": {"field": "y", "type": "quantitative"}
      }
    },
    {
      "data": {"name": "heads"},
      "transform": [{"filter": "datum.side === 'right'"}],
      "mark": {"type": "point", "shape": "M 0.36 0 L -0.36 -0.84 L -0.36 0.84 Z", "size": 10000, "filled": true, "color": "#4F81BD", "stroke": "#1F3552", "strokeWidth": 13, "strokeJoin": "round", "opacity": 1},
      "encoding": {
        "x": {"field": "x", "type": "quantitative"},
        "y": {"field": "y", "type": "quantitative"}
      }
    },
    {
      "data": {"name": "cores"},
      "mark": {"type": "rule", "color": "#4F81BD", "strokeWidth": 28},
      "encoding": {
        "x": {"field": "x", "type": "quantitative"},
        "y": {"field": "y", "type": "quantitative"},
        "x2": {"field": "x2"}
      }
    },
    {
      "data": {"name": "zone"},
      "mark": {"type": "rect", "fill": "#ffffff", "stroke": "#4F81BD", "strokeWidth": 5, "opacity": 1},
      "encoding": {
        "x": {"field": "x", "type": "quantitative"},
        "y": {"field": "y", "type": "quantitative"},
        "x2": {"field": "x2"},
        "y2": {"field": "y2"}
      }
    },
    {
      "data": {"name": "zonelabel"},
      "mark": {"type": "text", "font": "Liberation Serif", "fontSize": 83, "color": "#000000", "align": "center", "baseline": "middle"},
      "encoding": {
        "x": {"field": "x", "type": "quantitative"},
        "y": {"field": "y", "type": "quantitative"},
        "text": {"field": "label"}
      }
    },
    {
      "data": {"name": "curve"},
      "mark": {
        "type": "line",
        "interpolate": "monotone",
        "color": "#4F81BD",
        "strokeWidth": 8,
        "point": {"filled": true, "size": 1385, "color": "#4F81BD", "opacity": 1}
      },
      "encoding": {
        "x": {"field": "x", "type": "quantitative"},
        "y": {"field": "y", "type": "quantitative"}
      }
    },
    {
      "data": {"name": "markers"},
      "mark": {"type": "point", "filled": true, "size": 10000, "opacity": 1, "strokeWidth": 13, "strokeJoin": "round"},
      "encoding": {
        "x": {"field": "x", "type": "quantitative"},
        "y": {"field": "y", "type": "quantitative"},
        "color": {
          "field": "series",
          "type": "nominal",
          "scale": {
            "domain": ["Strengthening Region: (42%)", "Buffering Region (27%)", "Toxic Region (31%)", "Vertex", "Resilience Inflection Point"],
            "range": ["#00B050", "#FFE08A", "#E8A0A0", "#F79646", "#4F81BD"]
          },
          "legend": {
            "orient": "none", "legendX": 2535, "legendY": 60, "title": null, "columns": 1,
            "padding": 28.5, "rowPadding": 6, "labelOffset": 23.5, "labelLimit": 3000,
            "labelFont": "Liberation Serif", "labelFontSize": 82, "labelColor": "#000000",
            "symbolSize": 10000, "symbolStrokeWidth": 9, "symbolOpacity": 1,
            "strokeColor": "#2F5597", "fillColor": "#ffffff"
          }
        },
        "shape": {
          "field": "series",
          "type": "nominal",
          "scale": {
            "domain": ["Strengthening Region: (42%)", "Buffering Region (27%)", "Toxic Region (31%)", "Vertex", "Resilience Inflection Point"],
            "range": [
              "M -1.23 -0.69 L 1.23 -0.69 L 1.23 0.69 L -1.23 0.69 Z",
              "M -1.23 -0.69 L 1.23 -0.69 L 1.23 0.69 L -1.23 0.69 Z",
              "M -1.23 -0.69 L 1.23 -0.69 L 1.23 0.69 L -1.23 0.69 Z",
              "M 0 -0.75 L 0.75 0 L 0 0.75 L -0.75 0 Z",
              "M -0.75 -0.64 L 0.75 -0.64 L 0 0.64 Z"
            ]
          }
        },
        "stroke": {
          "field": "series",
          "type": "nominal",
          "scale": {
            "domain": ["Strengthening Region: (42%)", "Buffering Region (27%)", "Toxic Region (31%)", "Vertex", "Resilience Inflection Point"],
            "range": ["#2F5597", "#2F5597", "#2F5597", "#6B3E1A", "#1F3552"]
          }
        }
      }
    },
    {
      "data": {"name": "ends"},
      "mark": {"type": "text", "font": "Liberation Serif", "fontSize": 83, "color": "#595959", "align": "center", "baseline": "middle"},
      "encoding": {
        "x": {"field": "x", "type": "quantitative", "scale": {"domain": [-1.1, 1.1], "nice": false, "zero": false}},
        "y": {"field": "y", "type": "quantitative", "scale": {"domain": [-0.65, -0.4], "nice": false, "zero": false}},
        "text": {"field": "label"}
      }
    }
  ]
}
